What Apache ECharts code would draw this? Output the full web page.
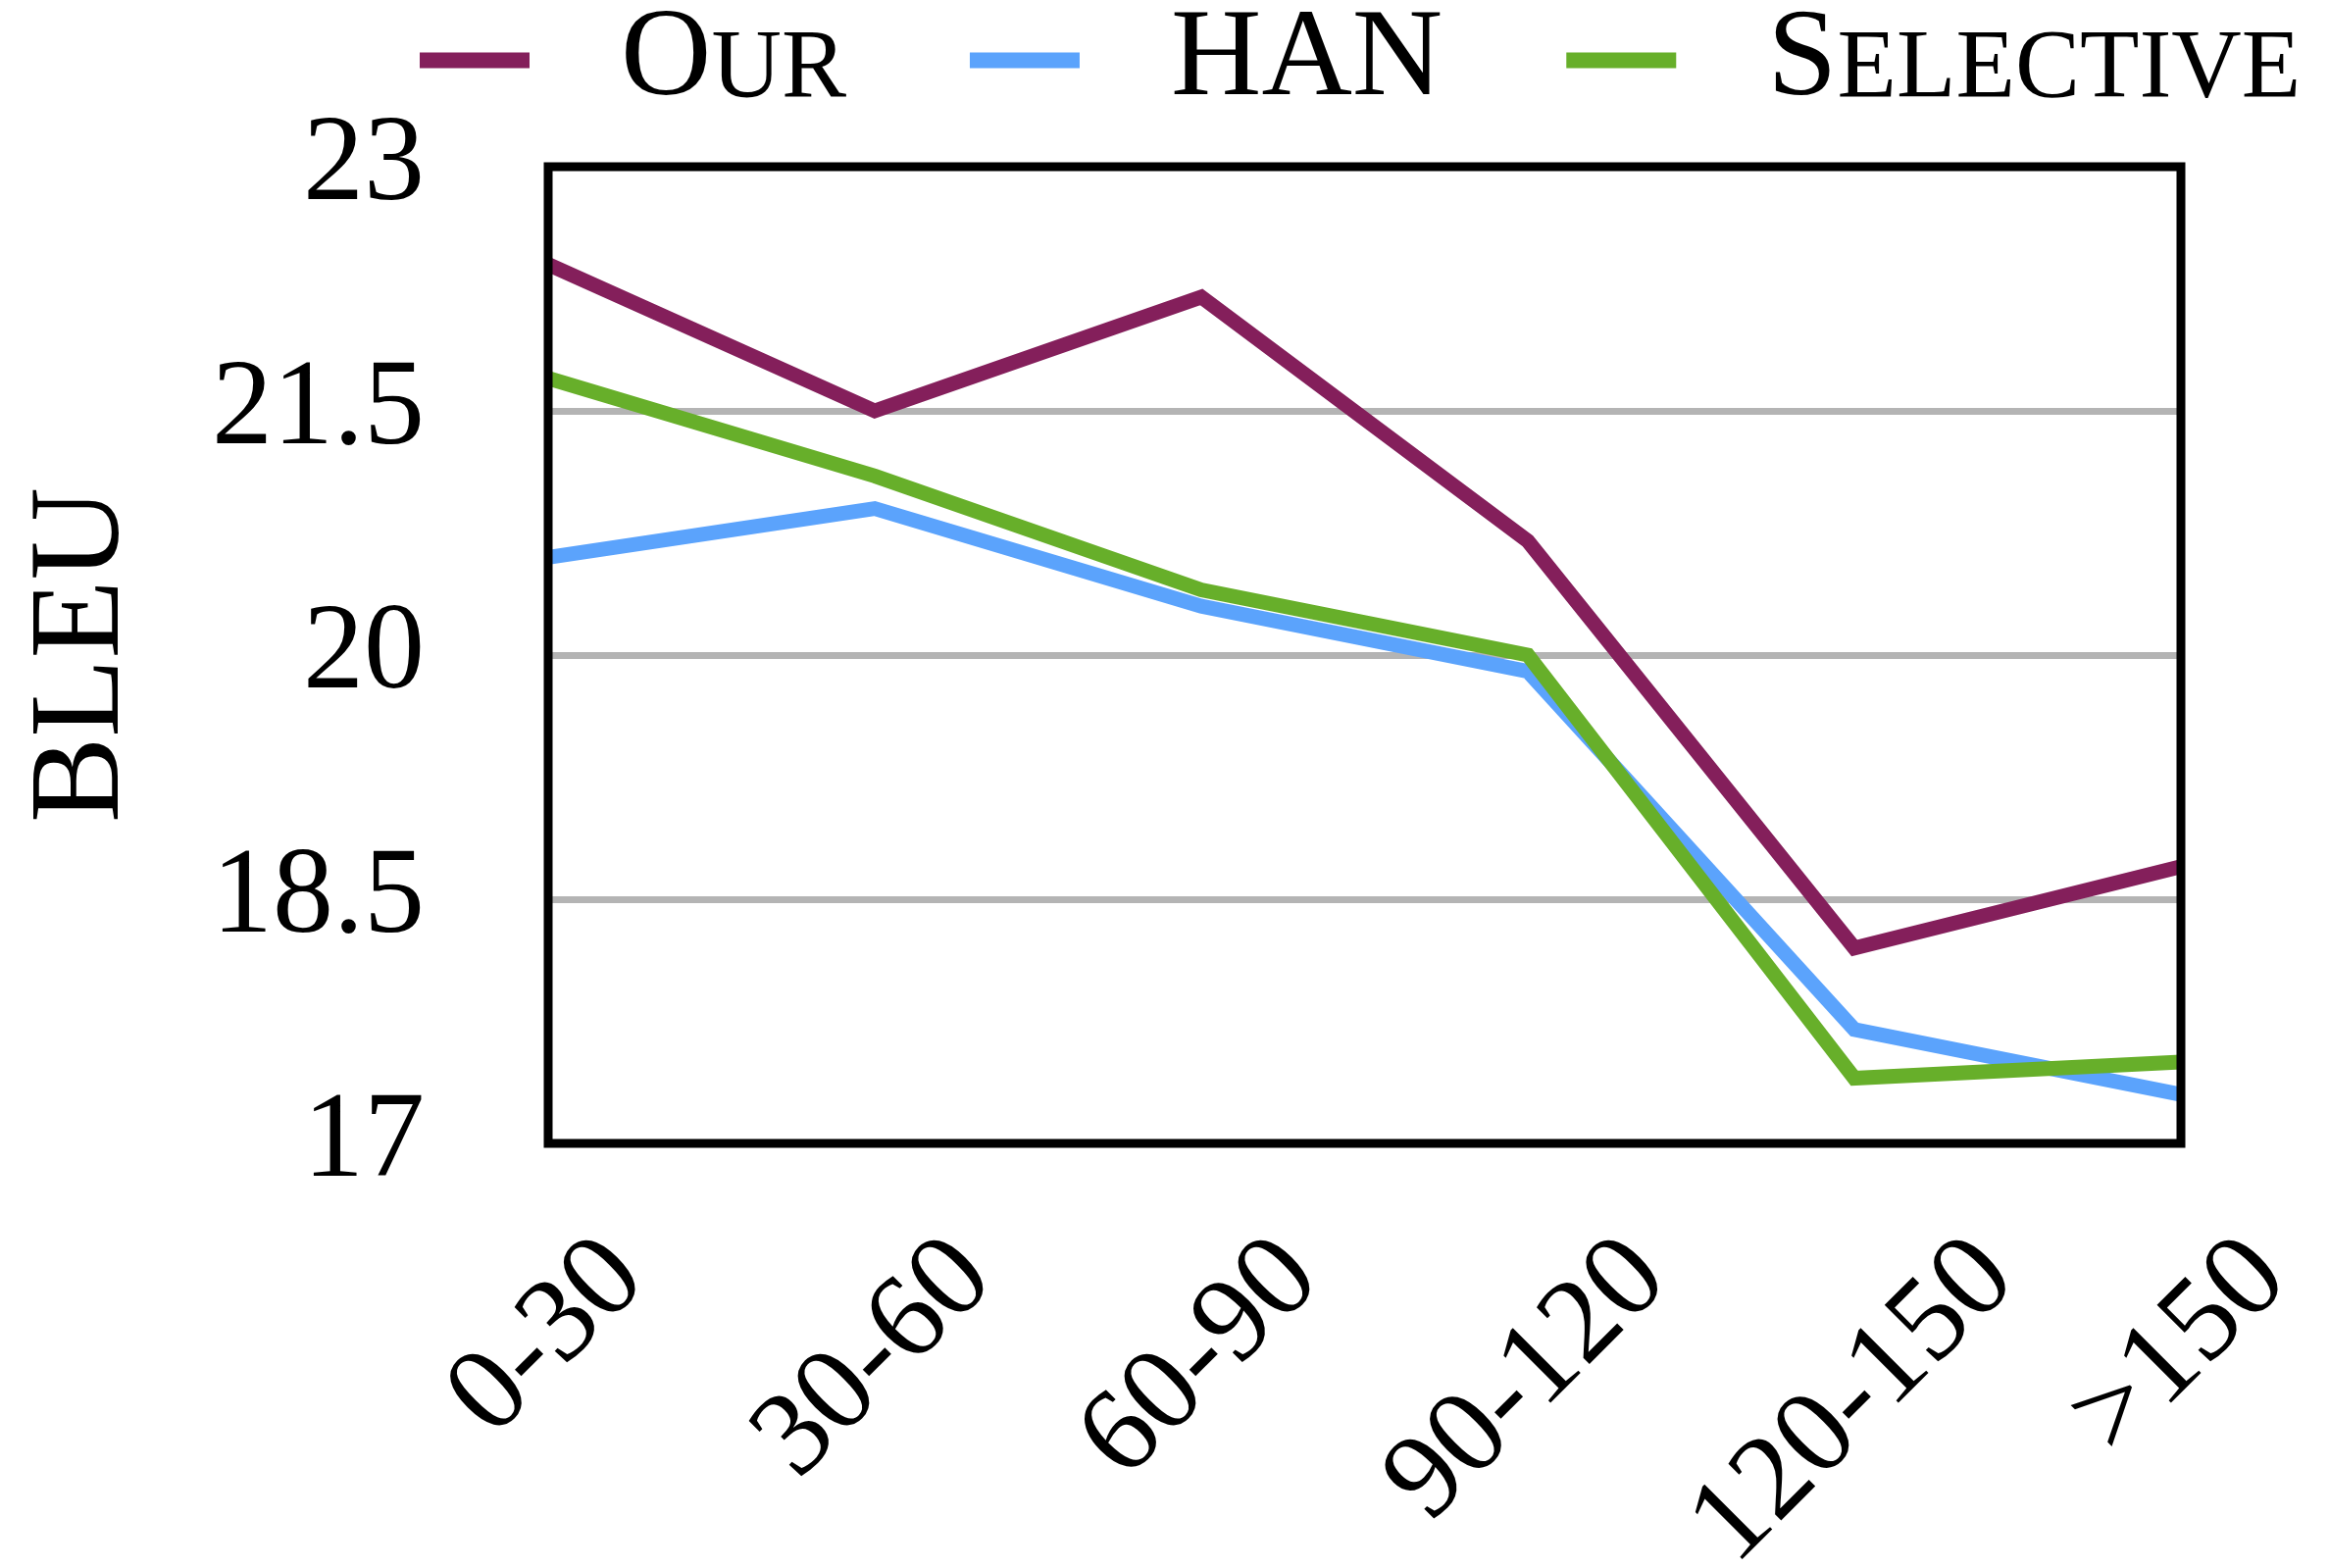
<!DOCTYPE html>
<html>
<head>
<meta charset="utf-8">
<script src="https://cdn.jsdelivr.net/npm/echarts@6/dist/echarts.min.js"></script>
<style>
html, body { margin: 0; padding: 0; background: #ffffff; }
#chart { width: 2375px; height: 1599px; }
</style>
</head>
<body>
<div id="chart"></div>
<script>
// ---- data ----
const categories = ['0-30', '30-60', '60-90', '90-120', '120-150', '>150'];
const seriesNames = ['Our', 'HAN', 'Selective'];
const ourValues = [22.4, 21.5, 22.2, 20.7, 18.2, 18.7];
const hanValues = [20.6, 20.9, 20.3, 19.9, 17.7, 17.3];
const selectiveValues = [21.7, 21.1, 20.4, 20.0, 17.4, 17.5];
const yMin = 17;
const yMax = 23;
const yInterval = 1.5;
const yName = 'BLEU';

const colors = ['#841F5B', '#5BA3FC', '#67AF2A'];
const FONT = "'Liberation Serif', 'Times New Roman', serif";
const X_FONT_SIZE = 123;

function smallCaps(name) {
  let out = '';
  for (const ch of name) {
    if (ch === ch.toUpperCase()) out += '{big|' + ch + '}';
    else out += '{sm|' + ch.toUpperCase() + '}';
  }
  return out;
}

// Rotated x labels: centre each label's bounding box under its tick,
// with all label tops aligned (measured text widths -> paddings).
const measureCtx = document.createElement('canvas').getContext('2d');
measureCtx.font = X_FONT_SIZE + "px 'Liberation Serif'";
const labelWidths = categories.map(c => measureCtx.measureText(c).width);
const K = Math.max.apply(null, labelWidths) / 2;
const xRich = {};
categories.forEach((c, i) => {
  const w = labelWidths[i];
  xRich['l' + i] = {
    fontFamily: FONT,
    fontSize: X_FONT_SIZE,
    color: '#000',
    padding: [w / 2 + K, (K - w / 2) / 2, 0, 0]
  };
});

const chart = echarts.init(document.getElementById('chart'));
const seriesData = [ourValues, hanValues, selectiveValues];

chart.setOption({
  animation: false,
  backgroundColor: '#ffffff',
  legend: {
    left: 428,
    top: -2,
    padding: 0,
    itemWidth: 112,
    itemHeight: 16,
    itemGap: 126,
    icon: 'rect',
    data: seriesNames,
    formatter: smallCaps,
    textStyle: {
      fontFamily: FONT,
      color: '#000',
      padding: [1, 0, 0, 88],
      rich: {
        big: { fontFamily: FONT, fontSize: 128, color: '#000', verticalAlign: 'bottom' },
        sm: { fontFamily: FONT, fontSize: 99, color: '#000', verticalAlign: 'bottom', padding: [0, 0, 5, 0] }
      }
    }
  },
  grid: {
    left: 559,
    right: 151,
    top: 170,
    bottom: 433,
    containLabel: false,
    outerBoundsMode: 'none',
    show: true,
    z: 10,
    borderColor: '#000',
    borderWidth: 9,
    backgroundColor: 'transparent'
  },
  xAxis: {
    type: 'category',
    data: categories,
    boundaryGap: false,
    axisLine: { show: false },
    axisTick: { show: false },
    splitLine: { show: false },
    axisLabel: {
      interval: 0,
      rotate: 45,
      margin: -26,
      align: 'right',
      verticalAlign: 'middle',
      formatter: function (value, index) { return '{l' + index + '|' + value + '}'; },
      rich: xRich,
      fontFamily: FONT,
      fontSize: X_FONT_SIZE,
      color: '#000'
    }
  },
  yAxis: {
    type: 'value',
    min: yMin,
    max: yMax,
    interval: yInterval,
    name: yName,
    nameLocation: 'middle',
    nameRotate: 90,
    nameGap: 408,
    nameTextStyle: { fontFamily: FONT, fontSize: 131, color: '#000' },
    axisLine: { show: false },
    axisTick: { show: false },
    splitLine: { show: true, lineStyle: { color: '#b4b4b4', width: 7 } },
    axisLabel: {
      margin: 126,
      fontFamily: FONT,
      fontSize: 124,
      color: '#000'
    }
  },
  series: seriesNames.map((name, i) => ({
    name: name,
    type: 'line',
    data: seriesData[i],
    showSymbol: false,
    symbol: 'none',
    color: colors[i],
    lineStyle: { color: colors[i], width: 15, join: 'miter' },
    itemStyle: { color: colors[i] }
  }))
});
</script>
</body>
</html>
